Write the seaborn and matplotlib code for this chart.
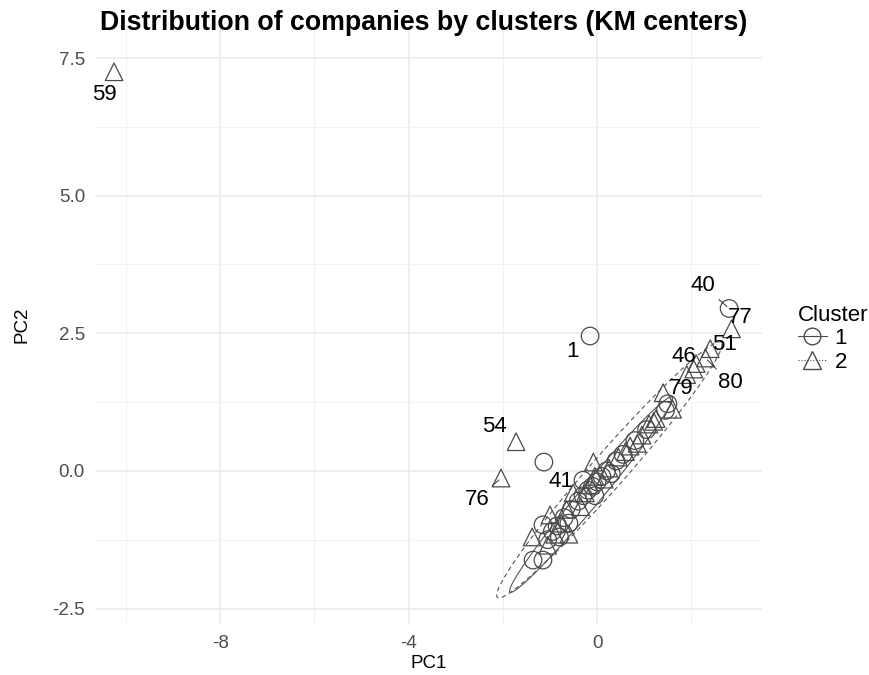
import numpy as np
import pandas as pd
import matplotlib
matplotlib.use("Agg")
import matplotlib.pyplot as plt
from matplotlib.lines import Line2D
import seaborn as sns

# PCA scores (PC1, PC2) and k-means cluster
pc1 = [-10.25, 2.80, 2.85, -0.15, 2.40, 2.30, 2.05, 1.40, -1.72, -2.04, -0.30, -1.13,
       # cluster 1 band
       1.50, 1.45, 1.05, 0.80, 0.55, 0.40, 0.20, 0.10, 0.00, -0.10, -0.20, -0.30,
       -0.40, -0.55, -0.70, -0.85, -0.95, -1.05, -1.15, -1.36, -1.15, -0.80, -0.60,
       0.30, -0.05,
       # cluster 2 band
       1.60, 1.25, 1.10, 0.95, 0.85, 0.70, 0.60, 0.45, 0.25, -0.08, -0.05, -0.15,
       -0.25, -0.51, -0.65, -0.75, -0.90, -1.05, -1.38, -0.60, -0.35, 0.15, -1.00,
       2.10, 1.90, 1.20]
pc2 = [7.25, 2.95, 2.58, 2.45, 2.22, 2.05, 1.85, 1.42, 0.53, -0.13, -0.17, 0.16,
       1.22, 1.10, 0.75, 0.55, 0.30, 0.18, 0.00, -0.10, -0.20, -0.28, -0.35, -0.45,
       -0.55, -0.70, -0.85, -1.00, -1.10, -1.25, -0.98, -1.62, -1.62, -1.20, -0.95,
       -0.05, -0.45,
       1.12, 0.95, 0.85, 0.65, 0.50, 0.45, 0.35, 0.25, 0.05, 0.16, -0.10, -0.25,
       -0.40, -0.40, -0.70, -0.95, -1.15, -1.35, -1.20, -1.15, -0.65, -0.15, -0.80,
       1.95, 1.75, 0.90]
cluster = (["2", "1", "2", "1", "2", "2", "2", "2", "2", "2", "1", "1"]
           + ["1"] * 25 + ["2"] * 26)

# labelled companies: id, text position (PC1, PC2), leader line?
label_ids = ["59", "40", "77", "1", "51", "46", "80", "79", "54", "76", "41"]
label_x = [-10.45, 2.25, 3.04, -0.53, 2.70, 1.83, 2.82, 1.78, -2.17, -2.55, -0.76]
label_y = [6.84, 3.36, 2.78, 2.16, 2.29, 2.07, 1.60, 1.49, 0.80, -0.52, -0.20]
label_pt = [0, 1, 2, 3, 4, 6, 5, 7, 8, 9, 10]
label_line = [False, True, False, False, False, False, True, False, False, True, False]

# t-ellipses: center, half-length, half-width, angle (data units)
ell_cx = [-0.13, 0.26]
ell_cy = [-0.43, 0.02]
ell_a = [2.47, 3.32]
ell_b = [0.21, 0.34]
ell_ang = [45.8, 44.2]
ell_ls = ["-", (0, (4, 3))]

df = pd.DataFrame({"PC1": pc1, "PC2": pc2, "Cluster": cluster})

sns.set_theme(style="white")
plt.rcParams["font.family"] = ["Liberation Sans", "DejaVu Sans"]
plt.rcParams["text.color"] = "black"
plt.rcParams["axes.labelcolor"] = "black"

fig = plt.figure(figsize=(8.69, 6.75), dpi=100)
ax = fig.add_axes([0.109, 0.074, 0.768, 0.889])

ax.set_xlim(-10.66, 3.5)
ax.set_ylim(-2.8, 8.1)
ax.set_xticks([-8, -4, 0])
ax.set_xticklabels(["-8", "-4", "0"])
ax.set_xticks([-10, -6, -2, 2], minor=True)
ax.set_yticks([-2.5, 0, 2.5, 5, 7.5])
ax.set_yticklabels(["-2.5", "0.0", "2.5", "5.0", "7.5"])
ax.set_yticks([-1.25, 1.25, 3.75, 6.25], minor=True)
ax.grid(True, which="major", color="#ebebeb", lw=1.1)
ax.grid(True, which="minor", color="#f2f2f2", lw=0.7)
ax.set_axisbelow(True)
for s in ax.spines.values():
    s.set_visible(False)
ax.tick_params(which="both", length=0, labelsize=13.5, labelcolor="#4d4d4d", pad=7)

# ellipses
t = np.linspace(0, 2 * np.pi, 200)
for cx, cy, a, b, ang, ls in zip(ell_cx, ell_cy, ell_a, ell_b, ell_ang, ell_ls):
    th = np.deg2rad(ang)
    ex = cx + a * np.cos(t) * np.cos(th) - b * np.sin(t) * np.sin(th)
    ey = cy + a * np.cos(t) * np.sin(th) + b * np.sin(t) * np.cos(th)
    ax.plot(ex, ey, color="#555555", lw=0.8, linestyle=ls, zorder=2)

sns.scatterplot(data=df, x="PC1", y="PC2", style="Cluster", markers={"1": "o", "2": "^"},
                facecolor="none", edgecolor="#4a4a4a", linewidth=0.9, s=160,
                legend=False, ax=ax, zorder=3)

for lab, lx, ly, ip, ln in zip(label_ids, label_x, label_y, label_pt, label_line):
    if ln:
        ax.annotate(lab, xy=(pc1[ip], pc2[ip]), xytext=(lx, ly), fontsize=16,
                    ha="center", va="center", color="black",
                    arrowprops=dict(arrowstyle="-", color="#333333", lw=0.7,
                                    shrinkA=0, shrinkB=2))
    else:
        ax.text(lx, ly, lab, fontsize=16, ha="center", va="center", color="black")

ax.set_xlabel("PC1", fontsize=13.5, labelpad=2)
ax.set_ylabel("PC2", fontsize=13.5, labelpad=16)
fig.text(0.487, 0.966, "Distribution of companies by clusters (KM centers)",
         fontsize=19.3, fontweight="bold", ha="center", va="center", color="black")

handles = [Line2D([], [], color="#4a4a4a", marker="o", mfc="none", ms=12, lw=0.8, ls="-"),
           Line2D([], [], color="#4a4a4a", marker="^", mfc="none", ms=13, lw=0.8, ls=":")]
leg = fig.legend(handles, ["1", "2"], title="Cluster", loc="upper left",
                 bbox_to_anchor=(0.908, 0.562), frameon=False, fontsize=16,
                 title_fontsize=16, handlelength=1.3, handletextpad=0.35,
                 labelspacing=0.12, borderaxespad=0)
leg._legend_box.align = "left"

fig.savefig("out.png", dpi=100)
